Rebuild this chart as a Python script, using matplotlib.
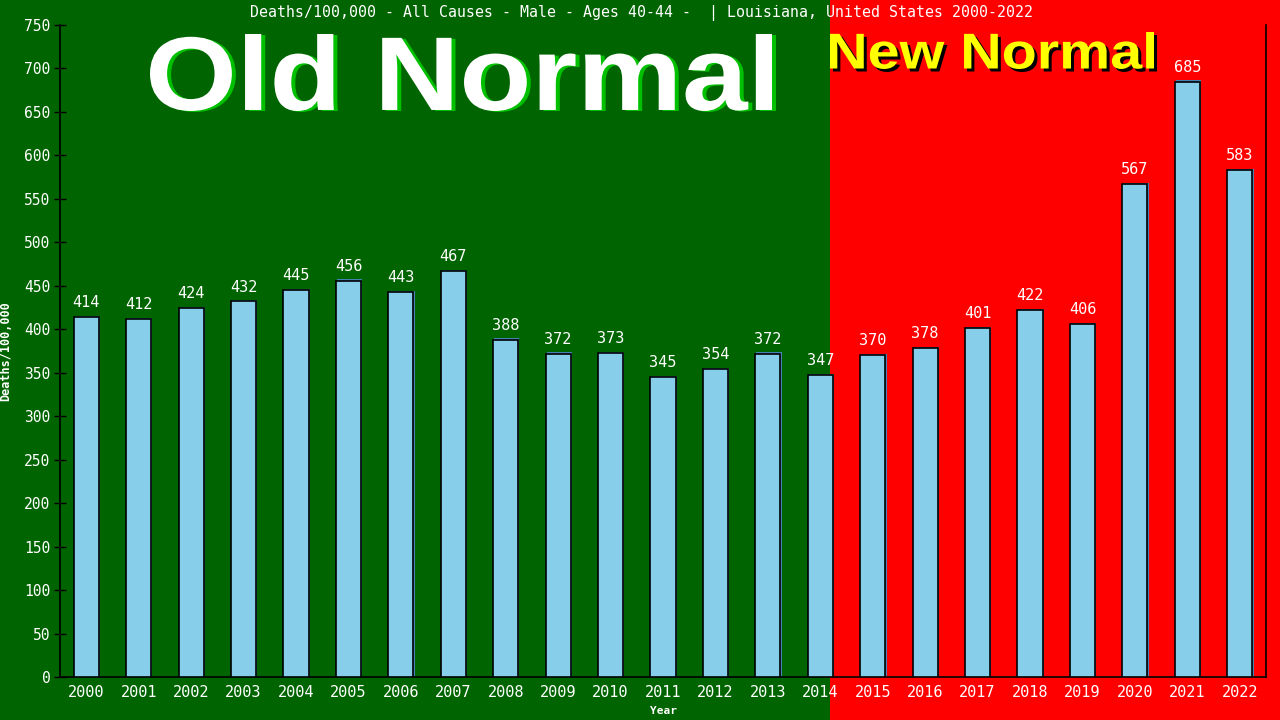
import matplotlib
matplotlib.use('Agg')
import matplotlib.pyplot as plt
import matplotlib.transforms as mtransforms
from matplotlib.patches import Rectangle, PathPatch
from matplotlib.textpath import TextPath
from matplotlib.font_manager import FontProperties

years = [str(y) for y in range(2000, 2023)]
deaths = [414, 412, 424, 432, 445, 456, 443, 467, 388, 372, 373, 345,
          354, 372, 347, 370, 378, 401, 422, 406, 567, 685, 583]
title = 'Deaths/100,000 - All Causes - Male - Ages 40-44 -  | Louisiana, United States 2000-2022'

mono = 'DejaVu Sans Mono'
green_bg = '#006400'
red_bg = '#ff0000'
W, H = 1280, 720

fig = plt.figure(figsize=(12.8, 7.2), dpi=100)
fig.patch.set_facecolor(green_bg)
# red "new normal" half of the background
fig.patches.append(Rectangle((830 / W, 0), 1 - 830 / W, 1,
                             transform=fig.transFigure, facecolor=red_bg,
                             edgecolor='none', zorder=-10))

ax = fig.add_axes([60 / W, 43 / H, 1206 / W, 652 / H])
ax.patch.set_alpha(0)

x = list(range(len(years)))
# thin shadow bars behind
shadow = mtransforms.offset_copy(ax.transData, fig=fig, x=1.2, y=1.2, units='dots')
ax.bar(x, deaths, width=0.48, color='#4682b4', transform=shadow, zorder=2)
ax.bar(x, deaths, width=0.48, color='#87ceeb', edgecolor='black', linewidth=1.2, zorder=3)

for xi, v in zip(x, deaths):
    ax.annotate(str(v), (xi, v), xytext=(0, 5), textcoords='offset points',
                ha='center', va='bottom', color='white', fontsize=11,
                family=mono, zorder=4)

ax.set_xlim(-0.5, len(years) - 0.5)
ax.set_ylim(0, 750)
ax.set_yticks(range(0, 751, 50))
ax.set_xticks(x)
ax.set_xticklabels(years)
ax.tick_params(axis='y', colors='black', labelcolor='white', labelsize=10.5,
               length=8, width=1, direction='inout', pad=3)
ax.tick_params(axis='x', length=0, labelcolor='white', labelsize=11, pad=6)
for lab in ax.get_xticklabels() + ax.get_yticklabels():
    lab.set_family(mono)

for side in ['left', 'bottom', 'right']:
    ax.spines[side].set_color('black')
    ax.spines[side].set_linewidth(1.2)
ax.spines['top'].set_visible(False)

ax.set_xlabel('Year', color='white', fontsize=8, family=mono, fontweight='bold', labelpad=4)
ax.set_ylabel('Deaths/100,000', color='white', fontsize=8.5, family=mono, fontweight='bold')
ax.yaxis.set_label_coords((12 - 60) / 1206, 0.5)

fig.text(641 / W, 1 - 13 / H, title, ha='center', va='center',
         color='white', fontsize=10.7, family=mono)


def banner(txt, x0, x1, ytop, ybot, color, shade, dx, dy):
    # draw text stretched into a pixel box (top-left origin), with a drop shadow
    fp = FontProperties(family='Liberation Sans', weight='bold')
    tp = TextPath((0, 0), txt, size=100, prop=fp)
    bb = tp.get_extents()
    sx = (x1 - x0) / bb.width
    sy = (ybot - ytop) / bb.height
    for col, ox, oy in [(shade, dx, dy), (col_main := color, 0, 0)]:
        tr = (mtransforms.Affine2D()
              .translate(-bb.x0, -bb.y0)
              .scale(sx, sy)
              .translate(x0 + ox, H - ybot - oy))
        fig.patches.append(PathPatch(tr.transform_path(tp), facecolor=col,
                                     edgecolor='none', transform=None))


banner('Old Normal', 150, 772, 34, 111, 'white', '#00c000', 4, 1)
banner('New Normal', 830, 1154, 32, 69, 'yellow', 'black', 3, 3)

fig.savefig('out.png', dpi=100, facecolor=fig.get_facecolor())
